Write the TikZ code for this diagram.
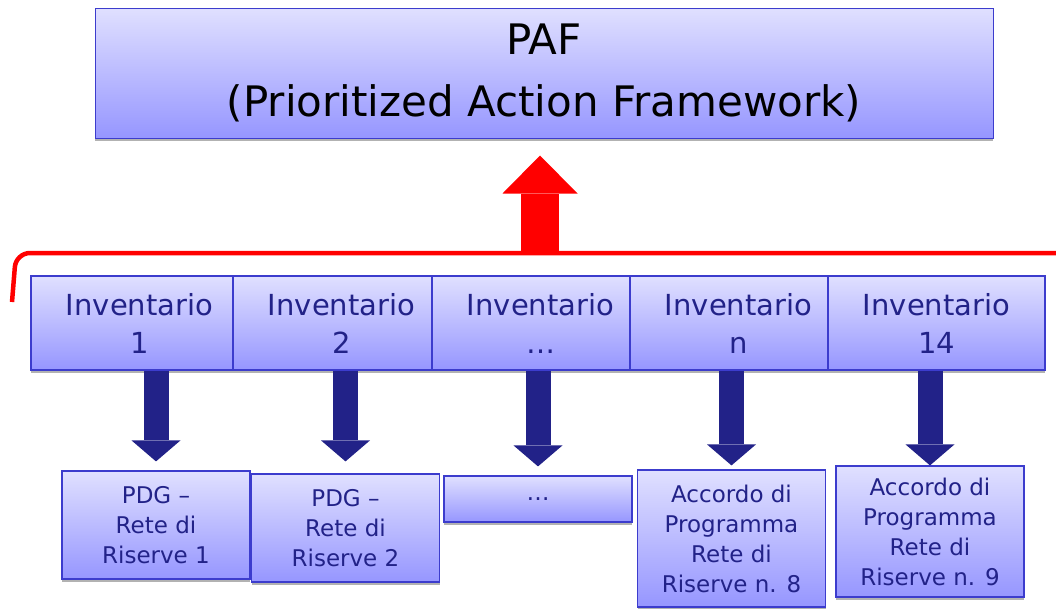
\documentclass[tikz,border=0pt]{standalone}
\usepackage{fontspec}
\setmainfont{DejaVu Sans}
\usetikzlibrary{arrows.meta,shadows}

\definecolor{boxtop}{RGB}{224,224,255}
\definecolor{boxbot}{RGB}{150,150,255}
\definecolor{boxline}{RGB}{60,60,205}
\definecolor{navy}{RGB}{34,34,136}

\tikzset{
	panel/.style={draw=boxline, line width=1.2pt, top color=boxtop, bottom color=boxbot,
		inner sep=0pt, align=center,
		drop shadow={shadow xshift=0pt, shadow yshift=-3pt, opacity=1, fill=gray!60}},
	invbox/.style={panel, minimum width=217pt, minimum height=94pt, text=navy,
		font=\fontsize{29}{38}\selectfont},
	resbox/.style={panel, minimum width=188pt, text=navy,
		font=\fontsize{23}{30}\selectfont},
	downarrow/.style={navy, line width=25pt, -{Triangle[width=49pt,length=21pt,line width=0pt]}},
	uparrow/.style={red, line width=38pt, -{Triangle[width=75pt,length=38pt,line width=0pt]}},
}

\begin{document}
\begin{tikzpicture}[x=1pt,y=-1pt]
	\useasboundingbox (0,0) rectangle (1056,608);

	% node definitions
	\node[panel, line width=1pt, minimum width=898pt, minimum height=130pt,
		font=\fontsize{42}{62}\selectfont] (paf) at (544,73)
		{PAF\\(Prioritized Action Framework)};

	\node[invbox] (inv1) at (139.5,323) {Inventario\\1};
	\node[invbox] (inv2) at (341.5,323) {Inventario\\2};
	\node[invbox] (inv3) at (540.5,323) {Inventario\\…};
	\node[invbox] (inv4) at (738.5,323) {Inventario\\n};
	\node[invbox] (inv5) at (936.5,323) {Inventario\\14};

	\node[resbox, minimum height=108pt] (res1) at   (156,525) {PDG –\\Rete di\\Riserve 1};
	\node[resbox, minimum height=108pt] (res2) at (345.5,528) {PDG –\\Rete di\\Riserve 2};
	\node[resbox, minimum height=46pt]  (res3) at   (538,499) {…};
	\node[resbox, minimum height=137pt] (res4) at (731.5,538.5) {Accordo di\\Programma\\Rete di\\Riserve n. 8};
	\node[resbox, minimum height=131pt] (res5) at   (930,531.5) {Accordo di\\Programma\\Rete di\\Riserve n. 9};

	% red bracket
	\coordinate     (brl) at   (12,302);
	\coordinate     (brc) at   (16,253);
	\coordinate     (brr) at (1056,253);
	\coordinate (redbase) at  (540,253);
	\draw[red, line width=4.5pt, rounded corners=14pt] (brl) -- (brc) -- (brr);

	% arrows
	\draw[uparrow, shorten >=17pt] (redbase) -- (redbase |- paf.south);
	\foreach \i/\gap in {1/9,2/12,3/9,4/4,5/0}
		\draw[downarrow, shorten >=\gap pt] (inv\i.south -| res\i.north) -- (res\i.north);

\end{tikzpicture}
\end{document}
